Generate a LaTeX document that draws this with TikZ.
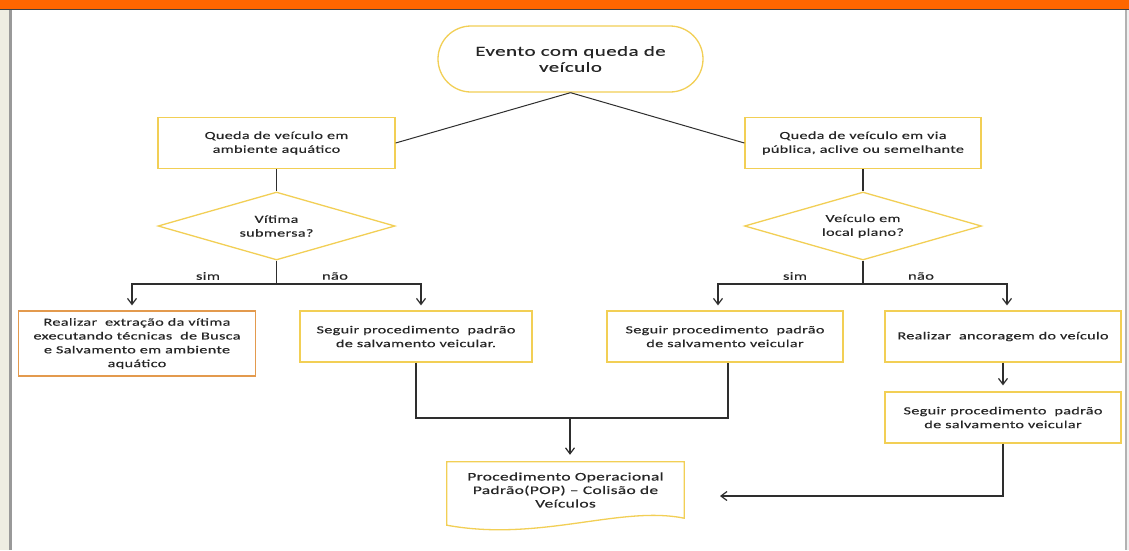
\documentclass[tikz,border=0pt]{standalone}
\usepackage{fontspec}
\setmainfont{Carlito}[FakeStretch=1.5,LetterSpace=3,FakeBold=0.4]
\usetikzlibrary{shapes.geometric,arrows.meta,calc}
\definecolor{boxyellow}{HTML}{F2CF55}
\definecolor{boxorange}{HTML}{E39A4E}
\definecolor{txt}{HTML}{262626}
\definecolor{barorange}{HTML}{FF6600}
\definecolor{linegray}{HTML}{2E2E2E}
\begin{document}
\begin{tikzpicture}[x=1pt,y=-1pt,
  every node/.style={text=txt,inner sep=0pt,align=center},
  boxtext/.style={font=\fontsize{10.8}{13.8}\selectfont},
  stepbox/.style={boxtext,draw=boxyellow,line width=1.3pt,minimum width=#1,minimum height=51pt},
  decision/.style={boxtext,diamond,aspect=3.5,draw=boxyellow,line width=1.3pt,minimum width=237pt,minimum height=68pt},
  conn/.style={draw=linegray,line width=1.3pt},
  thinconn/.style={draw=linegray,line width=1pt},
  arr/.style={conn,-{Straight Barb[length=6pt,width=9pt,line width=1.2pt]}},
  branchlabel/.style={font=\fontsize{11}{13}\selectfont}
]
\useasboundingbox (0,0) rectangle (1129,550);
% window frame
\fill[white] (0,0) rectangle (1129,550);
\fill[barorange] (0,0) rectangle (1129,8.5);
\draw[line width=1.6pt,draw=black!75] (0,9.3) -- (1129,9.3);
\fill[black!8!white!95!yellow] (0,10) rectangle (8.5,550);
\fill[black!40] (8.5,10) rectangle (11.5,550);
\fill[black!30] (1124.5,10) rectangle (1127,550);
\fill[black!6] (1127,10) rectangle (1129,550);

% nodes
\node[boxtext,font=\fontsize{14}{16}\selectfont,draw=boxyellow,line width=1.3pt,rounded corners=33pt,minimum width=265pt,minimum height=66pt] (start) at (570.5,59) {Evento com queda de\\veículo};
\node[stepbox=237pt] (q1) at (276.5,143) {Queda de veículo em\\ambiente aquático};
\node[stepbox=236pt] (q2) at (863,143) {Queda de veículo em via\\pública, aclive ou semelhante};
\node[decision] (d1) at (276.5,226) {Vítima\\submersa?};
\node[decision] (d2) at (863,226) {Veículo em\\local plano?};
\node[branchlabel] (s1) at (208,276) {sim};
\node[branchlabel] (n1) at (335,276) {não};
\node[branchlabel] (s2) at (795,276) {sim};
\node[branchlabel] (n2) at (921,276) {não};
\node[boxtext,draw=boxorange,line width=1.3pt,minimum width=237pt,minimum height=65pt] (a) at (137,343.5) {Realizar\ \ extração da vítima\\executando técnicas\ \ de Busca\\e Salvamento em ambiente\\aquático};
\node[stepbox=232pt] (b) at (416,336.5) {Seguir procedimento\ \ padrão\\de salvamento veicular.};
\node[stepbox=236pt] (c) at (725,336.5) {Seguir procedimento\ \ padrão\\de salvamento veicular};
\node[stepbox=236pt] (d) at (1003,336.5) {Realizar\ \ ancoragem do veículo};
\node[stepbox=236pt] (e) at (1003,417.5) {Seguir procedimento\ \ padrão\\de salvamento veicular};
\node[font=\fontsize{11.6}{13.5}\selectfont,minimum width=237pt,minimum height=56pt] (doc) at (565.5,490) {Procedimento Operacional\\Padrão(POP) – Colisão de\\Veículos};
\draw[draw=boxyellow,line width=1.3pt] (doc.north west) -- (doc.north east) -- (doc.south east)
  .. controls ($(doc.south east)+(-64,-13)$) and ($(doc.south west)+(93,24)$) .. ($(doc.south west)+(0,7)$) -- cycle;

% coordinates
\coordinate (j1) at (276.5,284);
\coordinate (j2) at (863,284);
\coordinate (m) at (570,418);
\coordinate (t) at (720,496);

% connectors
\draw[thinconn] (start.south) -- (q1.east);
\draw[thinconn] (start.south) -- (q2.west);
\draw[conn] (q1.south) -- (d1.north);
\draw[conn] (q2.south) -- (d2.north);
\draw[conn] (d1.south) -- (j1);
\draw[conn] (d2.south) -- (j2);
\draw[arr] (j1) -| ($(a.north)+(-5,-5)$);
\draw[arr] (j1) -| ($(b.north)+(5,-5)$);
\draw[arr] (j2) -| ($(c.north)+(-7,-5)$);
\draw[arr] (j2) -| ($(d.north)+(4,-5)$);
\draw[arr] (d.south) -- ($(e.north)+(0,-6)$);
\draw[conn] (b.south) |- (m) -| ($(c.south)+(3,0)$);
\draw[arr] (m) -- ($(doc.north)+(4.5,-7)$);
\draw[arr] (e.south) |- (t);
\end{tikzpicture}
\end{document}
